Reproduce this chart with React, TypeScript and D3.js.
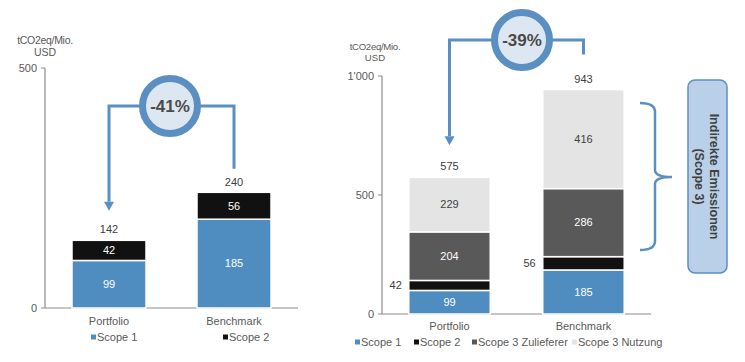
import React from "react";
import * as d3 from "d3";

const categories = ["Portfolio", "Benchmark"];
const leftSeries = ["Scope 1", "Scope 2"];
const leftValues = [
  [99, 42],
  [185, 56],
];
const leftTotals = [142, 240];
const leftTicks = [0, 500];
const leftChange = "-41%";

const rightSeries = ["Scope 1", "Scope 2", "Scope 3 Zulieferer", "Scope 3 Nutzung"];
const rightValues = [
  [99, 42, 204, 229],
  [185, 56, 286, 416],
];
const rightTotals = [575, 943];
const rightTicks = [0, 500, 1000];
const rightChange = "-39%";

const colors = ["#4f8dc1", "#111111", "#595959", "#e4e4e4"];
const textColors = ["#ffffff", "#ffffff", "#ffffff", "#404040"];
const blue = "#5b8fc1";
const font = "'Liberation Sans', Arial, sans-serif";
const grey = "#595959";

const fmt = (v: number) => (v >= 1000 ? d3.format(",")(v).replace(",", "'") : String(v));

function Chart(props: {
  values: number[][];
  totals: number[];
  series: string[];
  ticks: number[];
  yMax: number;
  y0: number;
  y1: number;
  x0: number;
  x1: number;
  pIn: number;
  pOut: number;
  change: string;
  bracketY: number;
  circleX: number;
  outsideScope2: boolean;
  legendX: number[];
  legendY: number;
  catY: number;
  titleX: number;
  titleDy: number;
  title2Dy: number;
  titleSize: number;
  tipGap: number;
  endGap: number;
}) {
  const p = props;
  const y = d3.scaleLinear().domain([0, p.yMax]).range([p.y0, p.y1]);
  const x = d3.scaleBand<string>().domain(categories).range([p.x0, p.x1]).paddingInner(p.pIn).paddingOuter(p.pOut);
  const bw = x.bandwidth();
  const cx = categories.map((c) => (x(c) as number) + bw / 2);
  const stacks = p.values.map((vals) => {
    let acc = 0;
    return vals.map((v) => {
      const s = acc;
      acc += v;
      return [s, acc];
    });
  });
  const ah = 9;
  const tipY = y(p.totals[0]) - p.tipGap;
  const leftEnd = tipY - ah;
  const rightEnd = y(p.totals[1]) - p.endGap;
  return (
    <g fontFamily={font}>
      {/* y axis title */}
      <text x={p.titleX} y={p.y1 - p.titleDy} textAnchor="middle" fontSize={p.titleSize} fill={grey} letterSpacing={-0.3}>
        tCO2eq/Mio.
      </text>
      <text x={p.titleX} y={p.y1 - p.titleDy + p.title2Dy} textAnchor="middle" fontSize={p.titleSize} fill={grey}>
        USD
      </text>
      {/* axis */}
      <line x1={p.x0} x2={p.x0} y1={y(p.yMax)} y2={y(0)} stroke="#8c8c8c" strokeWidth={1.2} />
      <line x1={p.x0} x2={p.x1} y1={y(0)} y2={y(0)} stroke="#8c8c8c" strokeWidth={1.2} />
      {p.ticks.map((t) => (
        <g key={t}>
          <line x1={p.x0 - 4} x2={p.x0} y1={y(t)} y2={y(t)} stroke="#8c8c8c" strokeWidth={1} />
          <text x={p.x0 - 8} y={y(t)} dy="0.35em" textAnchor="end" fontSize={11} fill={grey}>
            {fmt(t)}
          </text>
        </g>
      ))}
      {/* bars */}
      {stacks.map((st, i) =>
        st.map(([a, b], j) => {
          const v = p.values[i][j];
          const yTop = y(b);
          const yBot = y(a);
          const outside = p.outsideScope2 && j === 1;
          return (
            <g key={i + "-" + j}>
              <rect
                x={x(categories[i])}
                y={yTop}
                width={bw}
                height={yBot - yTop}
                fill={colors[j]}
                stroke="#ffffff"
                strokeWidth={1.5}
              />
              {outside ? (
                <text x={(x(categories[i]) as number) - 7} y={(yTop + yBot) / 2} dy="0.35em" textAnchor="end" fontSize={11} fill="#404040">
                  {v}
                </text>
              ) : (
                <text x={cx[i]} y={(yTop + yBot) / 2} dy="0.35em" textAnchor="middle" fontSize={11} fill={textColors[j]}>
                  {v}
                </text>
              )}
            </g>
          );
        })
      )}
      {/* totals */}
      {p.totals.map((t, i) => (
        <text key={t} x={cx[i]} y={y(p.totals[i]) - 7} textAnchor="middle" fontSize={11} fill="#404040">
          {t}
        </text>
      ))}
      {/* category labels */}
      {categories.map((c, i) => (
        <text key={c} x={cx[i]} y={p.catY} dy="0.35em" textAnchor="middle" fontSize={11} fill={grey}>
          {c}
        </text>
      ))}
      {/* legend */}
      {p.series.map((s, i) => (
        <g key={s}>
          <rect x={p.legendX[i]} y={p.legendY - 2.5} width={5} height={5} fill={colors[i]} />
          <text x={p.legendX[i] + 6} y={p.legendY} dy="0.35em" fontSize={11} fill={grey}>
            {s}
          </text>
        </g>
      ))}
      {/* change bracket */}
      <path
        d={`M${cx[0]},${leftEnd} L${cx[0]},${p.bracketY} L${cx[1]},${p.bracketY} L${cx[1]},${rightEnd}`}
        fill="none"
        stroke={blue}
        strokeWidth={3}
      />
      <path d={`M${cx[0] - 5},${leftEnd} L${cx[0] + 5},${leftEnd} L${cx[0]},${tipY} Z`} fill={blue} />
      <circle cx={p.circleX} cy={p.bracketY} r={27.5} fill="#dde7f2" stroke={blue} strokeWidth={7} />
      <text x={p.circleX} y={p.bracketY} dy="0.35em" textAnchor="middle" fontSize={17} fontWeight="bold" fill="#4a4a4a">
        {p.change}
      </text>
    </g>
  );
}

export default function App() {
  return (
    <svg width={745} height={362} style={{ position: "absolute", left: 0, top: 0, background: "#fff" }}>
      <Chart
        values={leftValues}
        totals={leftTotals}
        series={leftSeries}
        ticks={leftTicks}
        yMax={500}
        y0={308}
        y1={68}
        x0={45}
        x1={298}
        pIn={0.408}
        pOut={0.216}
        change={leftChange}
        bracketY={106}
        circleX={170}
        outsideScope2={false}
        legendX={[91, 223]}
        legendY={337}
        catY={321}
        titleX={45}
        titleDy={24}
        title2Dy={12}
        titleSize={10.5}
        tipGap={29}
        endGap={24}
      />
      <Chart
        values={rightValues}
        totals={rightTotals}
        series={rightSeries}
        ticks={rightTicks}
        yMax={1000}
        y0={314}
        y1={76}
        x0={382}
        x1={651}
        pIn={0.392}
        pOut={0.2}
        change={rightChange}
        bracketY={40}
        circleX={522}
        outsideScope2={true}
        legendX={[355, 414, 472, 572]}
        legendY={342}
        catY={326}
        titleX={375}
        titleDy={26}
        title2Dy={10.5}
        titleSize={9.6}
        tipGap={32}
        endGap={35}
      />
      {/* brace */}
      <path
        d="M640,103 Q655,103 655,112 L655,170 Q655,177 672,177 Q655,177 655,184 L655,241 Q655,250 640,250"
        fill="none"
        stroke={blue}
        strokeWidth={2.5}
      />
      <rect x={688} y={80} width={39} height={193} rx={7} fill="#b9d0e8" stroke={blue} strokeWidth={1.5} />
      <g transform="translate(707,176.5) rotate(90)" fontFamily={font} fontWeight="bold" fontSize={12.5} fill="#404040">
        <text x={0} y={-7} dy="0.35em" textAnchor="middle">
          Indirekte Emissionen
        </text>
        <text x={0} y={8} dy="0.35em" textAnchor="middle">
          (Scope 3)
        </text>
      </g>
    </svg>
  );
}
